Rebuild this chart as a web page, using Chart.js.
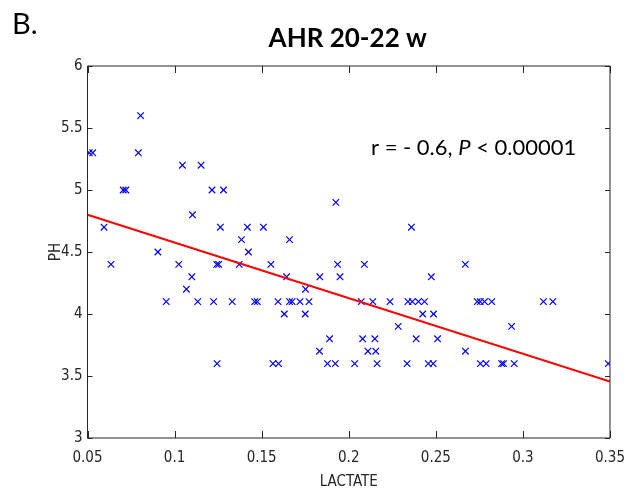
<!DOCTYPE html>
<html>
<head>
<meta charset="utf-8">
<script src="https://cdn.jsdelivr.net/npm/chart.js@4"></script>
<style>
  html, body { margin: 0; padding: 0; background: #fff; }
  #wrap { width: 636px; height: 494px; position: relative; }
</style>
</head>
<body>
<div id="wrap"><canvas id="c"></canvas></div>
<script>
// ── data ──
const lactate = [
  0.051, 0.053, 0.0595, 0.0635, 0.0705, 0.072, 0.0792, 0.0805, 0.0904, 0.0952,
  0.1024, 0.1045, 0.1068, 0.1099, 0.1103, 0.1133, 0.1152, 0.1215, 0.1224, 0.1242,
  0.1253, 0.1244, 0.1263, 0.1281, 0.1331, 0.1371, 0.1384, 0.1418, 0.1424, 0.146,
  0.1475, 0.151, 0.1553, 0.1565, 0.1594, 0.1597, 0.163, 0.1643, 0.166, 0.166,
  0.1675, 0.172, 0.175, 0.1752, 0.1772, 0.1832, 0.1834, 0.1878, 0.189, 0.1923,
  0.1926, 0.1936, 0.195, 0.2034, 0.2072, 0.208, 0.209, 0.211, 0.2138, 0.215,
  0.2155, 0.2163, 0.2237, 0.2284, 0.2335, 0.234, 0.236, 0.2365, 0.2387, 0.240,
  0.2425, 0.2435, 0.2457, 0.2474, 0.2485, 0.2487, 0.251, 0.2669, 0.267, 0.2738,
  0.2755, 0.2756, 0.278, 0.2789, 0.2821, 0.2878, 0.2889, 0.2935, 0.295, 0.3118,
  0.3172, 0.349
];
const ph = [
  5.3, 5.3, 4.7, 4.4, 5.0, 5.0, 5.3, 5.6, 4.5, 4.1,
  4.4, 5.2, 4.2, 4.3, 4.8, 4.1, 5.2, 5.0, 4.1, 4.4,
  4.4, 3.6, 4.7, 5.0, 4.1, 4.4, 4.6, 4.7, 4.5, 4.1,
  4.1, 4.7, 4.4, 3.6, 4.1, 3.6, 4.0, 4.3, 4.6, 4.1,
  4.1, 4.1, 4.0, 4.2, 4.1, 3.7, 4.3, 3.6, 3.8, 3.6,
  4.9, 4.4, 4.3, 3.6, 4.1, 3.8, 4.4, 3.7, 4.1, 3.8,
  3.7, 3.6, 4.1, 3.9, 3.6, 4.1, 4.7, 4.1, 3.8, 4.1,
  4.0, 4.1, 3.6, 4.3, 3.6, 4.0, 3.8, 4.4, 3.7, 4.1,
  4.1, 3.6, 4.1, 3.6, 4.1, 3.6, 3.6, 3.9, 3.6, 4.1,
  4.1, 3.6
];
// regression line end points
const fitX = [0.05, 0.35];
const fitY = [4.80, 3.455];

const xTicks = [0.05, 0.1, 0.15, 0.2, 0.25, 0.3, 0.35];
const xTickLabels = ['0.05', '0.1', '0.15', '0.2', '0.25', '0.3', '0.35'];
const yTicks = [3, 3.5, 4, 4.5, 5, 5.5, 6];
const yTickLabels = ['3', '3.5', '4', '4.5', '5', '5.5', '6'];

const titleText = 'AHR 20-22 w';
const panelText = 'B.';
const statPre = 'r = - 0.6, ';
const statP = 'P';
const statPost = ' < 0.00001';

const axisFont = "'Liberation Sans Narrow', 'DejaVu Sans Condensed', 'Liberation Sans', Arial, sans-serif";
const axisColor = '#262626';

// ── box with inward ticks (matlab style) ──
const boxTicks = {
  id: 'boxTicks',
  afterDatasetsDraw(chart) {
    const { ctx, chartArea: a, scales: { x, y } } = chart;
    ctx.save();
    ctx.strokeStyle = axisColor;
    ctx.lineWidth = 1;
    ctx.beginPath();
    ctx.rect(a.left, a.top, a.right - a.left, a.bottom - a.top);
    xTicks.forEach(v => {
      const px = Math.round(x.getPixelForValue(v)) + 0.5;
      ctx.moveTo(px, a.bottom); ctx.lineTo(px, a.bottom - 7);
      ctx.moveTo(px, a.top); ctx.lineTo(px, a.top + 7);
    });
    yTicks.forEach(v => {
      const py = Math.round(y.getPixelForValue(v)) + 0.5;
      ctx.moveTo(a.left, py); ctx.lineTo(a.left + 5, py);
      ctx.moveTo(a.right, py); ctx.lineTo(a.right - 5, py);
    });
    ctx.stroke();
    ctx.restore();
  }
};

// ── headings and the r / P note ──
const texts = {
  id: 'texts',
  afterDraw(chart) {
    const { ctx, chartArea: a } = chart;
    ctx.save();
    ctx.fillStyle = '#000';
    ctx.textBaseline = 'alphabetic';

    ctx.font = "29px Lato, 'Open Sans', sans-serif";
    ctx.textAlign = 'left';
    ctx.fillText(panelText, 12, 34);

    ctx.font = "bold 26px Lato, 'Open Sans', sans-serif";
    ctx.textAlign = 'center';
    ctx.fillText(titleText, (a.left + a.right) / 2 - 1, 47);

    ctx.textAlign = 'left';
    let cx = 371;
    const by = 155;
    ctx.font = "22px Lato, 'Open Sans', sans-serif";
    ctx.fillText(statPre, cx, by);
    cx += ctx.measureText(statPre).width;
    ctx.font = "italic 22px Lato, 'Open Sans', sans-serif";
    ctx.fillText(statP, cx, by);
    cx += ctx.measureText(statP).width;
    ctx.font = "22px Lato, 'Open Sans', sans-serif";
    ctx.fillText(statPost, cx, by);
    ctx.restore();
  }
};

const points = lactate.map((v, i) => ({ x: v, y: ph[i] }));
const fitLine = fitX.map((v, i) => ({ x: v, y: fitY[i] }));

new Chart(document.getElementById('c'), {
  type: 'scatter',
  data: {
    datasets: [
      {
        label: 'fit',
        data: fitLine,
        showLine: true,
        borderColor: '#ff0000',
        borderWidth: 2,
        pointRadius: 0,
        fill: false
      },
      {
        label: 'samples',
        data: points,
        pointStyle: 'crossRot',
        pointRadius: 4.6,
        pointBorderWidth: 1.2,
        borderColor: '#0000ff',
        backgroundColor: '#0000ff'
      }
    ]
  },
  options: {
    responsive: true,
    maintainAspectRatio: false,
    animation: false,
    events: [],
    layout: { padding: { top: 66, right: 23.5, left: 0, bottom: 0 } },
    plugins: { legend: { display: false }, tooltip: { enabled: false }, title: { display: false } },
    scales: {
      x: {
        type: 'linear',
        min: 0.05, max: 0.35,
        afterFit: s => { s.height = 56; },
        afterBuildTicks: s => { s.ticks = xTicks.map(v => ({ value: v })); },
        grid: { display: false, drawTicks: false },
        border: { display: false },
        ticks: {
          padding: 11,
          color: axisColor,
          font: { family: axisFont, size: 15 },
          maxRotation: 0,
          callback: (v) => xTickLabels[xTicks.indexOf(v)]
        },
        title: {
          display: true, text: 'LACTATE', color: axisColor,
          font: { family: axisFont, size: 15 },
          padding: { top: 0, bottom: 2.5 }
        }
      },
      y: {
        type: 'linear',
        min: 3, max: 6,
        afterFit: s => { s.width = 87.5; },
        afterBuildTicks: s => { s.ticks = yTicks.map(v => ({ value: v })); },
        grid: { display: false, drawTicks: false },
        border: { display: false },
        ticks: {
          padding: 5,
          color: axisColor,
          font: { family: axisFont, size: 15 },
          callback: (v) => yTickLabels[yTicks.indexOf(v)]
        },
        title: {
          display: true, text: 'PH', color: axisColor,
          font: { family: axisFont, size: 15 },
          padding: { top: 47, bottom: 0 }
        }
      }
    }
  },
  plugins: [boxTicks, texts]
});
</script>
</body>
</html>
